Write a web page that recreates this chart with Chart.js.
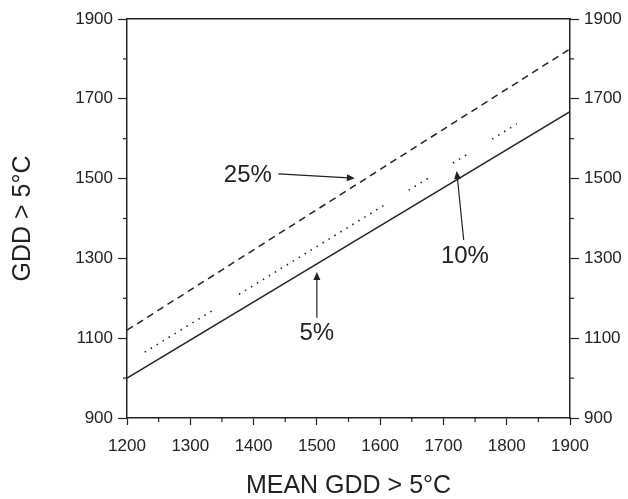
<!DOCTYPE html>
<html>
<head>
<meta charset="utf-8">
<script src="https://cdn.jsdelivr.net/npm/chart.js@4.4.0/dist/chart.umd.min.js"></script>
<style>
  body { margin: 0; background: #fff; }
</style>
</head>
<body>
<canvas id="gddChart" width="628" height="499"></canvas>
<script>
// lines (x = mean GDD, y = GDD > 5°C)
var solidX = [1200, 1900];
var solidY = [1000, 1668];
var dashX = [1200, 1900];
var dashY = [1120, 1825];
// the 10% line is broken into short dotted pieces
var dotSegX = [[1228, 1339], [1377, 1608], [1645, 1676], [1715, 1736], [1777, 1816]];
var dotSegY = [[1065, 1173], [1210, 1435], [1471, 1501], [1539, 1559], [1599, 1637]];

var xTickLabels = [1200, 1300, 1400, 1500, 1600, 1700, 1800, 1900];
var yTickLabels = [900, 1100, 1300, 1500, 1700, 1900];

// arrow labels: text, text spot, arrow tail, arrow tip (data units)
var annLabels = ['25%', '10%', '5%'];
var annText = [[1391, 1509], [1734, 1306], [1500, 1113]];
var annTail = [[1439, 1512], [1732, 1346], [1500, 1151]];
var annTip = [[1560, 1501], [1721, 1519], [1500, 1266]];

var ink = '#222';
var fontFam = '"Liberation Sans", Arial, sans-serif';

function toPoints(xs, ys) {
  var pts = [];
  for (var i = 0; i < xs.length; i++) pts.push({x: xs[i], y: ys[i]});
  return pts;
}

var dotData = [];
for (var s = 0; s < dotSegX.length; s++) {
  if (s > 0) dotData.push({x: (dotSegX[s-1][1] + dotSegX[s][0]) / 2, y: null});
  dotData = dotData.concat(toPoints(dotSegX[s], dotSegY[s]));
}

function isMajor(scale, value) {
  if (scale.axis === 'x') return value % 100 === 0;
  return (value - 900) % 200 === 0;
}

// short minor ticks + arrows with labels
var extras = {
  id: 'extras',
  afterDraw: function(chart) {
    var ctx = chart.ctx;
    ctx.save();
    ctx.strokeStyle = ink;
    ctx.lineWidth = 1.2;
    ['x', 'y', 'y2'].forEach(function(id) {
      var sc = chart.scales[id];
      sc.ticks.forEach(function(t) {
        if (isMajor(sc, t.value)) return;
        var p = sc.getPixelForValue(t.value);
        ctx.beginPath();
        if (id === 'x') { ctx.moveTo(p, sc.top); ctx.lineTo(p, sc.top + 4); }
        else if (id === 'y') { ctx.moveTo(sc.right, p); ctx.lineTo(sc.right - 4, p); }
        else { ctx.moveTo(sc.left, p); ctx.lineTo(sc.left + 4, p); }
        ctx.stroke();
      });
    });

    var xs = chart.scales.x, ys = chart.scales.y;
    ctx.fillStyle = ink;
    ctx.font = '24px ' + fontFam;
    ctx.textAlign = 'center';
    ctx.textBaseline = 'middle';
    for (var i = 0; i < annLabels.length; i++) {
      ctx.fillText(annLabels[i], xs.getPixelForValue(annText[i][0]), ys.getPixelForValue(annText[i][1]));
      var x0 = xs.getPixelForValue(annTail[i][0]), y0 = ys.getPixelForValue(annTail[i][1]);
      var x1 = xs.getPixelForValue(annTip[i][0]), y1 = ys.getPixelForValue(annTip[i][1]);
      var a = Math.atan2(y1 - y0, x1 - x0);
      ctx.beginPath();
      ctx.moveTo(x0, y0);
      ctx.lineTo(x1 - 6 * Math.cos(a), y1 - 6 * Math.sin(a));
      ctx.stroke();
      ctx.beginPath();
      ctx.moveTo(x1, y1);
      ctx.lineTo(x1 - 8 * Math.cos(a) + 3.5 * Math.sin(a), y1 - 8 * Math.sin(a) - 3.5 * Math.cos(a));
      ctx.lineTo(x1 - 8 * Math.cos(a) - 3.5 * Math.sin(a), y1 - 8 * Math.sin(a) + 3.5 * Math.cos(a));
      ctx.closePath();
      ctx.fill();
    }
    ctx.restore();
  }
};

function yAxis(pos) {
  return {
    type: 'linear',
    position: pos,
    min: 900,
    max: 1900,
    border: { display: true, color: ink, width: 1.5 },
    grid: {
      drawOnChartArea: false,
      tickLength: 9,
      tickWidth: 1.2,
      tickColor: function(c) { return c.tick && isMajor(c.scale, c.tick.value) ? ink : 'rgba(0,0,0,0)'; }
    },
    ticks: {
      stepSize: 100,
      padding: pos === 'left' ? 5 : 5,
      color: ink,
      font: { family: fontFam, size: 17 },
      callback: function(v) { return yTickLabels.indexOf(v) >= 0 ? String(v) : ''; }
    },
    afterFit: function(sc) { sc.width = pos === 'left' ? 127 : 58; }
  };
}

var leftY = yAxis('left');
leftY.title = {
  display: true,
  text: 'GDD > 5°C',
  color: ink,
  font: { family: fontFam, size: 25, lineHeight: 1 },
  padding: { top: 11, bottom: 0 }
};

var ctx = document.getElementById('gddChart').getContext('2d');
var chart = new Chart(ctx, {
  type: 'line',
  data: {
    datasets: [
      {
        label: '5%',
        data: toPoints(solidX, solidY),
        borderColor: ink,
        borderWidth: 1.5,
        pointRadius: 0
      },
      {
        label: '25%',
        data: toPoints(dashX, dashY),
        borderColor: ink,
        borderWidth: 1.5,
        borderDash: [7, 5],
        pointRadius: 0
      },
      {
        label: '10%',
        data: dotData,
        borderColor: ink,
        borderWidth: 1.6,
        borderDash: [1.5, 5.5],
        pointRadius: 0,
        spanGaps: false
      }
    ]
  },
  options: {
    responsive: false,
    animation: false,
    layout: { padding: 0 },
    plugins: {
      legend: { display: false },
      tooltip: { enabled: false }
    },
    scales: {
      x: {
        type: 'linear',
        position: 'bottom',
        min: 1200,
        max: 1900,
        border: { display: true, color: ink, width: 1.5 },
        grid: {
          drawOnChartArea: false,
          tickLength: 7,
          tickWidth: 1.2,
          tickColor: function(c) { return c.tick && isMajor(c.scale, c.tick.value) ? ink : 'rgba(0,0,0,0)'; }
        },
        ticks: {
          stepSize: 50,
          padding: 11,
          maxRotation: 0,
          autoSkip: false,
          color: ink,
          font: { family: fontFam, size: 17 },
          callback: function(v) { return xTickLabels.indexOf(v) >= 0 ? String(v) : ''; }
        },
        title: {
          display: true,
          text: 'MEAN GDD > 5°C',
          color: ink,
          font: { family: fontFam, size: 25, lineHeight: 1 },
          padding: { top: 0, bottom: 0 }
        },
        afterFit: function(sc) { sc.height = 81; }
      },
      x2: {
        type: 'linear',
        position: 'top',
        min: 1200,
        max: 1900,
        border: { display: true, color: ink, width: 1.5 },
        grid: { drawOnChartArea: false, drawTicks: false },
        ticks: { display: false },
        afterFit: function(sc) { sc.height = 19; }
      },
      y: leftY,
      y2: yAxis('right')
    }
  },
  plugins: [extras]
});
</script>
</body>
</html>
